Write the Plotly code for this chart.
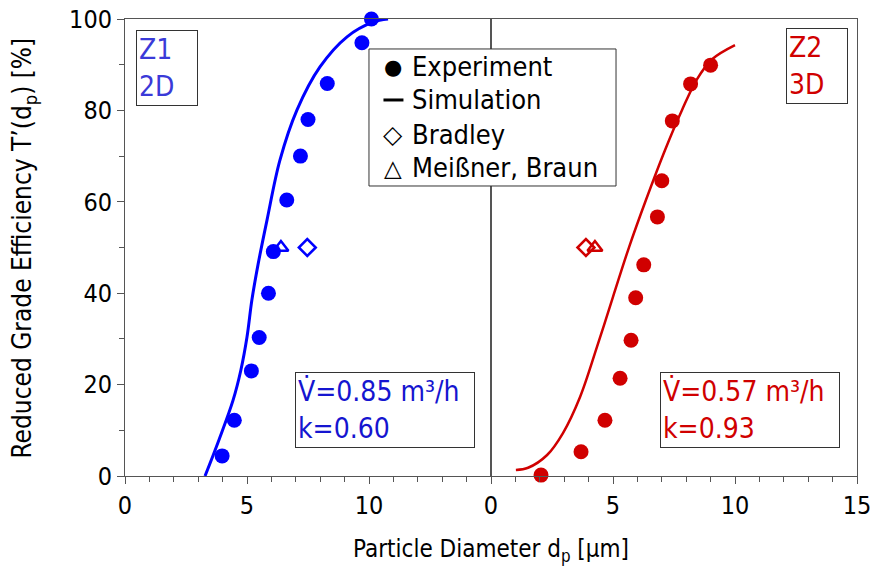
import plotly.graph_objects as go

# ---- data ----
# Z1 / 2D (left panel, blue)
z1_exp_x = [3.98, 4.48, 5.18, 5.50, 5.88, 6.08, 6.63, 7.19, 7.50, 8.29, 9.71, 10.10]
z1_exp_y = [4.4, 12.2, 23.0, 30.3, 40.0, 49.1, 60.4, 70.0, 78.0, 85.9, 94.8, 100.0]
z1_sim_x = [3.28, 3.85, 4.43, 4.75, 5.00, 5.20, 5.45, 5.82, 6.35, 7.05, 7.99, 9.10, 10.16, 10.78]
z1_sim_y = [0.0, 7.9, 16.6, 23.2, 30.4, 38.5, 46.2, 56.0, 69.1, 80.1, 89.5, 96.1, 99.3, 100.0]
z1_bradley = ([7.47], [50.0])
z1_meissner = ([6.39], [50.0])

# Z2 / 3D (right panel, red)
z2_exp_x = [2.05, 3.69, 4.67, 5.29, 5.74, 5.93, 6.26, 6.82, 7.00, 7.43, 8.18, 9.00]
z2_exp_y = [0.2, 5.3, 12.2, 21.4, 29.7, 39.0, 46.2, 56.7, 64.6, 77.7, 85.8, 89.9]
z2_sim_x = [1.02, 1.52, 2.30, 2.95, 3.65, 4.34, 5.00, 5.66, 6.35, 7.13, 7.83, 8.44, 9.06, 10.0]
z2_sim_y = [1.3, 1.8, 4.6, 9.4, 17.3, 28.2, 39.2, 50.1, 60.4, 71.3, 80.1, 86.8, 91.2, 94.3]
z2_bradley = ([3.89], [50.0])
z2_meissner = ([4.26], [50.0])

x_ticks_left = [0, 5, 10]
x_ticks_right = [0, 5, 10, 15]
y_ticks = [0, 20, 40, 60, 80, 100]

legend_names = ["Experiment", "Simulation", "Bradley", "Meißner, Braun"]

BLUE = "#0000ff"
RED = "#d00000"
FONT = "DejaVu Sans Condensed, DejaVu Sans, sans-serif"
AX = "#555555"

fig = go.Figure()

def add_panel(xa, ya, ex, ey, sx, sy, br, me, col, lw):
    fig.add_trace(go.Scatter(x=sx, y=sy, mode="lines", line=dict(color=col, width=lw, shape="spline", smoothing=1.0),
                             xaxis=xa, yaxis=ya, showlegend=False, cliponaxis=False))
    fig.add_trace(go.Scatter(x=ex, y=ey, mode="markers", marker=dict(color=col, size=15, symbol="circle"),
                             xaxis=xa, yaxis=ya, showlegend=False, cliponaxis=False))
    fig.add_trace(go.Scatter(x=br[0], y=br[1], mode="markers",
                             marker=dict(color=col, size=13, symbol="diamond-open", line=dict(color=col, width=2.5)),
                             xaxis=xa, yaxis=ya, showlegend=False))
    fig.add_trace(go.Scatter(x=me[0], y=me[1], mode="markers",
                             marker=dict(color=col, size=13, symbol="triangle-up-open", line=dict(color=col, width=2.5)),
                             xaxis=xa, yaxis=ya, showlegend=False))

add_panel("x", "y", z1_exp_x, z1_exp_y, z1_sim_x, z1_sim_y, z1_bradley, z1_meissner, BLUE, 3)
add_panel("x2", "y2", z2_exp_x, z2_exp_y, z2_sim_x, z2_sim_y, z2_bradley, z2_meissner, RED, 2.5)

axis_common = dict(showline=True, linecolor=AX, linewidth=1, mirror=True, showgrid=False, zeroline=False,
                   tickcolor=AX, ticklen=7, automargin=False, ticklabeloverflow="allow",
                   tickfont=dict(size=25, color="black", family=FONT))

fig.update_layout(
    width=872, height=569,
    margin=dict(l=125, r=15, t=19, b=93),
    paper_bgcolor="white", plot_bgcolor="white",
    font=dict(family=FONT, color="black"),
    showlegend=False,
    hovermode=False,
    xaxis=dict(domain=[0, 0.5], range=[0, 15], tickvals=x_ticks_left, ticks="outside",
               minor=dict(dtick=1, ticks="outside", ticklen=5, tickcolor=AX), anchor="y", **axis_common),
    xaxis2=dict(domain=[0.5, 1], range=[0, 15], tickvals=x_ticks_right, ticks="outside",
                minor=dict(dtick=1, ticks="outside", ticklen=5, tickcolor=AX), anchor="y2", **axis_common),
    yaxis=dict(range=[0, 100], tickvals=y_ticks, anchor="x", ticks="outside",
               minor=dict(dtick=10, ticks="outside", ticklen=5, tickcolor=AX), **axis_common),
    yaxis2=dict(range=[0, 100], tickvals=y_ticks, showticklabels=False, anchor="x2", ticks="", **axis_common),
)

# axis titles
fig.add_annotation(text="Particle Diameter d<sub>p</sub> [µm]", xref="paper", yref="paper", x=0.5, y=-0.163,
                   xanchor="center", yanchor="middle", showarrow=False, font=dict(size=24, family=FONT))
fig.add_annotation(text="Reduced Grade Efficiency T’(d<sub>p</sub>) [%]", xref="paper", yref="paper",
                   x=-0.138, y=0.5, xanchor="center", yanchor="middle", textangle=-90, showarrow=False,
                   font=dict(size=26, family=FONT))

# legend (drawn as a box with symbol + text rows)
fig.add_shape(type="rect", xref="paper", yref="paper", x0=0.3333, x1=0.6708, y0=0.6346, y1=0.9344,
              line=dict(color="#333333", width=1), fillcolor="white", layer="above")
leg_rows = [0.8956, 0.8228, 0.7462, 0.674]
leg_symbols = ["●", None, "<b>◇</b>", "<b>△</b>"]
leg_sym_sizes = [21, None, 25, 23]
for name, yy, sym, ssz in zip(legend_names, leg_rows, leg_symbols, leg_sym_sizes):
    if sym is None:
        fig.add_shape(type="line", xref="paper", yref="paper", x0=0.3531, x1=0.3804, y0=yy, y1=yy,
                      line=dict(color="black", width=3), layer="above")
    else:
        fig.add_annotation(text=sym, xref="paper", yref="paper", x=0.3662, y=yy, xanchor="center", yanchor="middle",
                           showarrow=False, font=dict(size=ssz, color="black", family="DejaVu Sans"))
    fig.add_annotation(text=name, xref="paper", yref="paper", x=0.3893, y=yy, xanchor="left", yanchor="middle",
                       showarrow=False, font=dict(size=27, color="black", family=FONT))

fig.add_annotation(text="Z1<br>2D", xref="paper", yref="paper", x=0.0574, y=0.892, xanchor="center", yanchor="middle",
                   showarrow=False, align="left", font=dict(size=28, color="#3a3ad8", family=FONT),
                   bordercolor="#333333", borderwidth=1, borderpad=2, bgcolor="white", width=56, height=70)
fig.add_annotation(text="Z2<br>3D", xref="paper", yref="paper", x=0.946, y=0.897, xanchor="center", yanchor="middle",
                   showarrow=False, align="left", font=dict(size=28, color=RED, family=FONT),
                   bordercolor="#333333", borderwidth=1, borderpad=2, bgcolor="white", width=56, height=70)

fig.add_annotation(text="V̇=0.85 m³/h<br>k=0.60", xref="paper", yref="paper", x=0.355, y=0.1444, xanchor="center",
                   yanchor="middle", showarrow=False, align="left", font=dict(size=28, color="#1515d0", family=FONT),
                   bordercolor="#333333", borderwidth=1, borderpad=2, bgcolor="white", width=174, height=70)
fig.add_annotation(text="V̇=0.57 m³/h<br>k=0.93", xref="paper", yref="paper", x=0.854, y=0.1444, xanchor="center",
                   yanchor="middle", showarrow=False, align="left", font=dict(size=28, color=RED, family=FONT),
                   bordercolor="#333333", borderwidth=1, borderpad=2, bgcolor="white", width=174, height=70)

# remove the default 8px page margin so the 872x569 figure fills the window exactly
fig.write_html("out.html", config={"displayModeBar": False},
               post_script="document.body.style.margin='0';document.body.style.overflow='hidden';")
